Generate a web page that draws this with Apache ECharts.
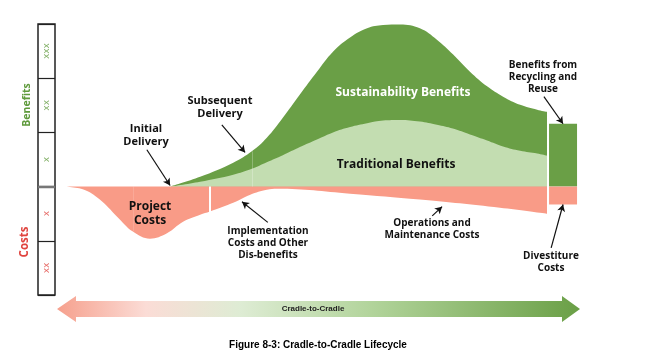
<!DOCTYPE html>
<html>
<head>
<meta charset="utf-8">
<script src="https://cdn.jsdelivr.net/npm/echarts@6/dist/echarts.min.js"></script>
<style>html,body{margin:0;padding:0;background:#fff}#c{width:661px;height:360px}</style>
</head>
<body>
<div id="c"></div>
<script>
// ---- data (arbitrary lifecycle time units 0..100, benefit/cost units -2..3) ----
const costX = [0, 4.4, 7.7, 11.0, 14.1, 17.4, 20.7, 23.8, 27.1, 29.0, 33.5, 36.8, 40.0, 42.0, 56.1, 69.6, 85.1, 94.2];
const costValues = [0, -0.05, -0.24, -0.55, -0.83, -0.96, -0.86, -0.65, -0.52, -0.46, -0.30, -0.15, -0.06, -0.04, -0.13, -0.24, -0.39, -0.50];
const benefitX = [21.3, 27.1, 33.5, 37.1, 40.0, 43.1, 46.4, 49.7, 52.8, 56.1, 59.4, 62.5, 65.8, 69.6, 72.9, 76.0, 79.3, 82.6, 85.7, 89.0, 92.3, 94.2];
const traditionalValues = [0, 0.09, 0.22, 0.33, 0.45, 0.58, 0.73, 0.87, 1.00, 1.10, 1.17, 1.22, 1.23, 1.20, 1.14, 1.07, 0.96, 0.85, 0.74, 0.66, 0.61, 0.57];
const sustainabilityValues = [0, 0.18, 0.44, 0.65, 0.90, 1.27, 1.70, 2.12, 2.49, 2.75, 2.92, 2.98, 2.99, 2.92, 2.71, 2.44, 2.12, 1.85, 1.66, 1.51, 1.42, 1.38];
const endX = [97.3];
const recyclingValues = [1.16];
const divestitureValues = [-0.33];
const scaleLabels = ['xxx', 'xx', 'x', 'x', 'xx'];
const scaleLevels = [2.5, 1.5, 0.5, -0.5, -1.5];

const DARK = '#6a9f46', LIGHT = '#c3ddb1', PINK = '#f99b87', TXT = '#111';
const FONT = '"Open Sans", "Noto Sans", sans-serif';

const zip = (xs, ys) => xs.map((x, i) => [x, ys[i]]);

const arrows = [
  [[16.8, 0.68], [21.3, 0.02]],
  [[31.3, 1.14], [35.8, 0.63]],
  [[40.2, -0.66], [35.2, -0.28]],
  [[72.0, -0.54], [73.9, -0.37]],
  [[93.6, 1.66], [97.3, 1.16]],
  [[95.0, -1.13], [97.3, -0.33]]
];

const chart = echarts.init(document.getElementById('c'), null, {renderer: 'canvas'});

function txt(x, y, text, size, color, extra, family) {
  const el = {
    type: 'text', x: x, y: y, z: 100, silent: true,
    style: {text: text, fontSize: size, fontWeight: 'bold', fontFamily: family || FONT, fill: color,
            align: 'center', verticalAlign: 'middle', lineHeight: Math.round(size * 1.18)}
  };
  return Object.assign(el, extra || {});
}

const SMOOTH = 0.4;

const option = {
  animation: false,
  grid: [
    {left: 60, right: 84, top: 24, bottom: 65},
    {left: 38, width: 17, top: 24, bottom: 65, show: true, borderColor: '#222', borderWidth: 1.5, backgroundColor: 'transparent'}
  ],
  xAxis: [
    {gridIndex: 0, type: 'value', min: 0, max: 100, show: false},
    {gridIndex: 1, type: 'value', min: -1, max: 1, show: false}
  ],
  yAxis: [
    {gridIndex: 0, type: 'value', min: -2, max: 3, show: false},
    {gridIndex: 1, type: 'value', min: -2, max: 3, interval: 1,
     axisLine: {show: false}, axisTick: {show: false}, axisLabel: {show: false},
     splitLine: {show: true, lineStyle: {color: '#222', width: 1.2}}}
  ],
  series: [
    {
      name: 'Sustainability Benefits', type: 'line', xAxisIndex: 0, yAxisIndex: 0,
      data: zip(benefitX, sustainabilityValues), smooth: SMOOTH, showSymbol: false, silent: true,
      lineStyle: {width: 0}, areaStyle: {color: DARK, opacity: 1}
    },
    {
      name: 'Traditional Benefits', type: 'line', xAxisIndex: 0, yAxisIndex: 0,
      data: zip(benefitX, traditionalValues), smooth: SMOOTH, showSymbol: false, silent: true,
      lineStyle: {width: 0}, areaStyle: {color: LIGHT, opacity: 1},
      markLine: {
        silent: true, symbol: 'none', label: {show: false},
        lineStyle: {color: 'rgba(255,255,255,0.25)', width: 1, type: 'solid'},
        data: [[{coord: [37.1, 0]}, {coord: [37.1, 0.65]}]]
      }
    },
    {
      name: 'Costs', type: 'line', xAxisIndex: 0, yAxisIndex: 0,
      data: zip(costX, costValues), smooth: SMOOTH, showSymbol: false, silent: true,
      lineStyle: {width: 0}, areaStyle: {color: PINK, opacity: 1},
      markLine: {
        silent: true, symbol: 'none', label: {show: false},
        data: [
          [{coord: [29.0, 0], lineStyle: {color: '#fff', width: 2, type: 'solid'}}, {coord: [29.0, -0.47]}],
          [{coord: [14.1, 0], lineStyle: {color: 'rgba(255,255,255,0.15)', width: 1, type: 'solid'}}, {coord: [14.1, -0.82]}]
        ]
      }
    },
    {
      name: 'Benefits from Recycling and Reuse', type: 'bar', xAxisIndex: 0, yAxisIndex: 0,
      stack: 'end', barWidth: 28, silent: true, itemStyle: {color: DARK},
      data: zip(endX, recyclingValues)
    },
    {
      name: 'Divestiture Costs', type: 'bar', xAxisIndex: 0, yAxisIndex: 0,
      stack: 'end', barWidth: 28, silent: true, itemStyle: {color: PINK},
      data: zip(endX, divestitureValues)
    },
    {
      name: 'arrows', type: 'line', xAxisIndex: 0, yAxisIndex: 0, z: 10,
      data: [[0, 0]], showSymbol: false, lineStyle: {opacity: 0}, silent: true,
      markLine: {
        silent: true, symbol: ['none', 'arrow'], symbolSize: [6, 7], label: {show: false},
        lineStyle: {color: '#111', width: 1.2, type: 'solid'},
        data: arrows.map(a => [{coord: a[0]}, {coord: a[1]}])
      }
    },
    {
      name: 'scale', type: 'scatter', xAxisIndex: 1, yAxisIndex: 1, symbolSize: 0, silent: true,
      data: scaleLevels.map((v, i) => ({
        value: [0, v],
        label: {show: true, position: 'inside', rotate: 90, formatter: scaleLabels[i],
                fontSize: 9, fontFamily: '"DejaVu Sans", sans-serif', color: v > 0 ? '#5f9a3c' : '#e0443f'}
      }))
    }
  ],
  graphic: [
    {type: 'line', silent: true, z: 100, shape: {x1: 38, y1: 187, x2: 55, y2: 187}, style: {stroke: '#777', lineWidth: 2.5}},
    txt(27, 105, 'Benefits', 10.5, '#5f9a3c', {rotation: Math.PI / 2}),
    txt(25, 242, 'Costs', 11.5, '#e0443f', {rotation: Math.PI / 2}),
    txt(403, 93, 'Sustainability Benefits', 12, '#fff'),
    txt(396, 165, 'Traditional Benefits', 12, TXT),
    txt(150, 214, 'Project\nCosts', 12, TXT),
    txt(146, 135, 'Initial\nDelivery', 11, TXT),
    txt(220, 107, 'Subsequent\nDelivery', 11, TXT),
    txt(268, 243, 'Implementation\nCosts and Other\nDis-benefits', 10, TXT),
    txt(432, 229, 'Operations and\nMaintenance Costs', 10, TXT),
    txt(543, 77, 'Benefits from\nRecycling and\nReuse', 10, TXT),
    txt(551, 262, 'Divestiture\nCosts', 10, TXT),
    {
      type: 'polygon', silent: true, z: 50,
      shape: {points: [[57, 309], [76, 296], [76, 301], [562, 301], [562, 296], [580, 309], [562, 322], [562, 317], [76, 317], [76, 322]]},
      style: {fill: new echarts.graphic.LinearGradient(0, 0, 1, 0, [
        {offset: 0, color: '#f6a08d'},
        {offset: 0.17, color: '#fbdcd6'},
        {offset: 0.35, color: '#deecd4'},
        {offset: 0.6, color: '#b2d49b'},
        {offset: 1, color: '#6a9f46'}
      ])}
    },
    txt(313, 309, 'Cradle-to-Cradle', 8, '#222', null, '"Liberation Sans", sans-serif'),
    txt(318, 345, 'Figure 8-3: Cradle-to-Cradle Lifecycle', 10, '#000', null, '"Liberation Sans", sans-serif')
  ]
};
chart.setOption(option);
</script>
</body>
</html>
